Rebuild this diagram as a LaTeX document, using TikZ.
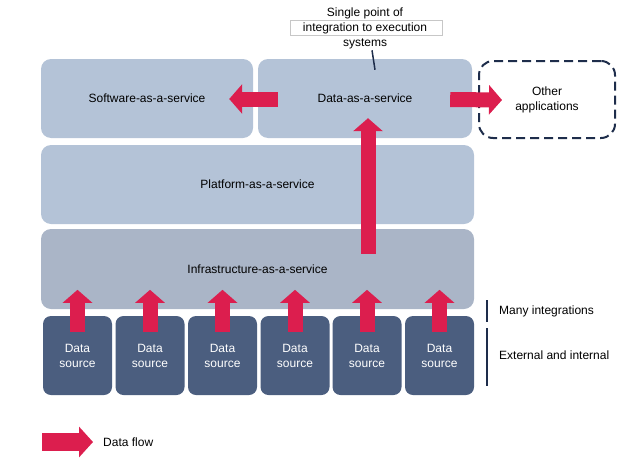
\documentclass[tikz,border=0pt]{standalone}
\usepackage{fontspec}
\setmainfont{Liberation Sans}
\usepackage{tikz}
\usetikzlibrary{calc,arrows.meta,positioning}
\definecolor{layerblue}{RGB}{180,195,215}
\definecolor{infrablue}{RGB}{170,181,199}
\definecolor{srcblue}{RGB}{75,94,127}
\definecolor{flowred}{RGB}{220,30,78}
\definecolor{navy}{RGB}{30,45,75}

\begin{document}
\begin{tikzpicture}[x=1pt,y=-1pt,
    layer/.style={rounded corners=10pt,fill=layerblue,font=\fontsize{12}{15}\selectfont,minimum height=79pt,align=center,inner sep=0pt},
    infra/.style={layer,fill=infrablue},
    src/.style={rounded corners=8pt,fill=srcblue,text=white,font=\fontsize{12}{15}\selectfont,minimum width=69pt,minimum height=79pt,align=center,inner sep=0pt},
    other/.style={rounded corners=14pt,draw=navy,line width=2pt,dash pattern=on 9pt off 5pt,font=\fontsize{12}{15}\selectfont,minimum width=136pt,minimum height=77pt,align=center,inner sep=0pt},
    note/.style={font=\fontsize{12}{15}\selectfont,anchor=west,inner sep=0pt},
    flow/.style={draw=flowred,line width=15pt,-{Triangle[width=29pt,length=13pt]}},
    bigflow/.style={draw=flowred,line width=18pt,-{Triangle[width=30pt,length=14pt]}},
    bar/.style={draw=navy,line width=2pt},
    lead/.style={draw=navy,line width=1.5pt}]
   \useasboundingbox (0,0) rectangle (644,460);
   % service layers
   \node[layer,minimum width=212pt] (saas) at (147,98.5)  {Software-as-a-service};
   \node[layer,minimum width=214pt] (daas) at (365,98.5)  {Data-as-a-service};
   \node[other]                     (oth)  at (547,99.5)  {Other\\applications};
   \node[layer,minimum width=433pt] (paas) at (257.5,184.5) {Platform-as-a-service};
   \node[infra,minimum width=433pt,minimum height=80pt] (iaas) at (257.5,269) {Infrastructure-as-a-service};
   % data sources
   \foreach \i/\x in {1/77.5,2/150,3/222.5,4/295,5/367,6/439.5}
      \node[src] (ds\i) at (\x,355.5) {Data\\source};
   % callout
   \node[draw=black!22,line width=0.6pt,minimum width=152pt,minimum height=15pt,inner sep=0pt] (cbox) at (366,27.5) {};
   \node[font=\fontsize{12}{15}\selectfont,align=center,inner sep=0pt] (call) at (365,28) {Single point of\\integration to execution\\systems};
   \draw[lead] ($(call.south)+(7,1.5)$) -- ($(daas.north)+(10,11)$);
   % flows
   \foreach \i in {1,...,6}
      \draw[flow] ($(ds\i.north)+(0,16)$) -- ($(ds\i.north)+(0,-26)$);
   \draw[flow] ($(iaas.north)+(110.5,25)$) -- ($(daas.south)+(3,-20)$);
   \draw[flow] ($(daas.west)+(20,0.5)$) -- ($(saas.east)+(-24,0.5)$);
   \draw[flow] ($(daas.east)+(-22,1)$) -- ($(oth.west)+(24,0.5)$);
   % side notes
   \node[note] (many) at (499,311) {Many integrations};
   \node[note] (ext)  at (499,355) {External and internal};
   \draw[bar] ($(many.west)+(-12,-11)$) -- ($(many.west)+(-12,11)$);
   \draw[bar] ($(ext.west)+(-12,-27)$) -- ($(ext.west)+(-12,31)$);
   % legend
   \node[note] (leg) at (103,442) {Data flow};
   \draw[bigflow] ($(leg.west)+(-61,0)$) -- ($(leg.west)+(-10,0)$);
  \end{tikzpicture}
\end{document}
